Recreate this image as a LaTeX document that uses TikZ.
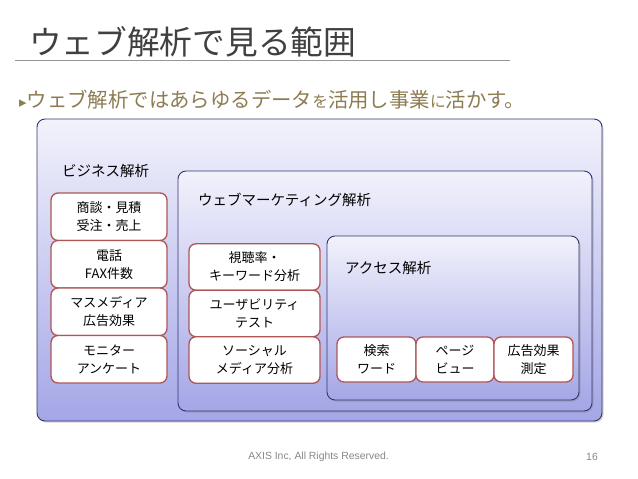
\documentclass[tikz,border=0pt]{standalone}
\usepackage{fontspec}
\setmainfont{Noto Sans CJK JP}
\newfontfamily\jpfont{Noto Sans CJK JP}
\newfontfamily\latinfont{Liberation Sans}
\newfontfamily\symfont{DejaVu Sans}
\usetikzlibrary{shadows}
\definecolor{titlegray}{RGB}{64,64,64}
\definecolor{rulegray}{RGB}{150,150,150}
\definecolor{subolive}{RGB}{140,124,82}
\definecolor{navyline}{RGB}{50,54,110}
\definecolor{lavtop}{RGB}{242,242,252}
\definecolor{lavbot}{RGB}{164,166,230}
\definecolor{boxred}{RGB}{176,84,84}
\definecolor{footgray}{RGB}{135,135,135}
\tikzset{
  panel/.style={draw=navyline, line width=0.9pt, rounded corners=8pt,
    top color=lavtop, bottom color=lavbot,
    drop shadow={opacity=0.35, shadow xshift=1.5pt, shadow yshift=-1.5pt},
    inner sep=0pt},
  itembox/.style={draw=boxred, line width=1.3pt, rounded corners=7pt, fill=white,
    align=center, inner sep=0pt, font=\jpfont\fontsize{13}{18}\selectfont},
  paneltitle/.style={anchor=west, inner sep=0pt, font=\jpfont\fontsize{14.5}{17}\selectfont}
}
\begin{document}
\begin{tikzpicture}[x=1pt,y=-1pt]
\useasboundingbox (0,0) rectangle (638,479);
% title
\node[anchor=west, inner sep=0pt, text=titlegray, font=\jpfont\fontsize{32.7}{36}\selectfont] (title) at (29,42) {ウェブ解析で見る範囲};
\coordinate (ruleL) at (15,60);
\coordinate (ruleR) at (510,60);
\draw[rulegray, line width=0.8pt] (ruleL) -- (ruleR);
\node[anchor=west, inner sep=0pt, text=subolive, font=\jpfont\fontsize{20.4}{22}\selectfont] (sub) at (19,100)
  {{\symfont\fontsize{15}{16}\selectfont ▸}ウェブ解析ではあらゆるデータ{\fontsize{15.7}{16}\selectfont を}活用し事業{\fontsize{15.7}{16}\selectfont に}活かす。};
% panels
\node[panel, minimum width=565pt, minimum height=302pt] (outer) at (319.5,270) {};
\node[panel, minimum width=414pt, minimum height=240pt] (web) at (385,291) {};
\node[panel, minimum width=252pt, minimum height=164pt] (access) at (453,318) {};
% panel titles
\node[paneltitle] (bizlabel) at (62,171) {ビジネス解析};
\node[paneltitle] (weblabel) at (198,200) {ウェブマーケティング解析};
\node[paneltitle] (acclabel) at (345,268) {アクセス解析};
% business boxes
\node[itembox, minimum width=116pt, minimum height=47.5pt] (b1) at (109,216.75) {商談・見積\\受注・売上};
\node[itembox, minimum width=116pt, minimum height=47.5pt] (b2) at (109,264.25) {電話\\FAX件数};
\node[itembox, minimum width=116pt, minimum height=47.5pt] (b3) at (109,311.75) {マスメディア\\広告効果};
\node[itembox, minimum width=116pt, minimum height=47.5pt] (b4) at (109,359.25) {モニター\\アンケート};
% web marketing boxes
\node[itembox, minimum width=131pt, minimum height=46.5pt] (w1) at (254.5,267) {視聴率・\\キーワード分析};
\node[itembox, minimum width=131pt, minimum height=46.5pt] (w2) at (254.5,313.5) {ユーザビリティ\\テスト};
\node[itembox, minimum width=131pt, minimum height=46.5pt] (w3) at (254.5,360) {ソーシャル\\メディア分析};
% access boxes
\node[itembox, minimum width=79pt, minimum height=45pt] (a1) at (376.5,359.5) {検索\\ワード};
\node[itembox, minimum width=78pt, minimum height=45pt] (a2) at (455,359.5) {ページ\\ビュー};
\node[itembox, minimum width=79pt, minimum height=45pt] (a3) at (533.5,359.5) {広告効果\\測定};
% footer
\node[inner sep=0pt, text=footgray, font=\latinfont\fontsize{10.4}{12}\selectfont] (foot) at (318.5,457) {AXIS Inc, All Rights Reserved.};
\node[inner sep=0pt, text=footgray, font=\latinfont\fontsize{10.4}{12}\selectfont] (page) at (592,457) {16};
\end{tikzpicture}
\end{document}
